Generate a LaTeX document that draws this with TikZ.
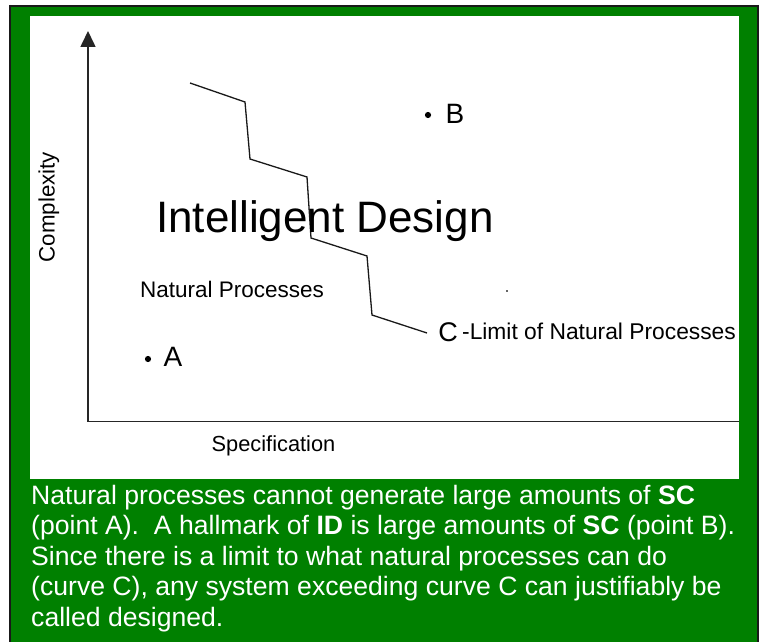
\documentclass[tikz,border=0pt]{standalone}
\usepackage{fontspec}
\setmainfont{Liberation Sans}
\usetikzlibrary{arrows.meta}
\definecolor{bggreen}{RGB}{0,128,0}
\tikzset{
  lbl/.style={inner sep=0pt, anchor=base, text=black},
  caption/.style={inner sep=0pt, anchor=base west, text=white, font=\fontsize{26.6}{30}\selectfont},
  axisline/.style={line width=1.6pt, draw=black!85},
  limitcurve/.style={line width=1.3pt, draw=black!90}
}
\begin{document}
\begin{tikzpicture}[x=1pt,y=-1pt]
\useasboundingbox (0,0) rectangle (761,642);
% frame
\fill[white] (0,0) rectangle (761,642);
\fill[bggreen] (9,5) rectangle (759,642);
\draw[line width=1.8pt, black!90] (9.9,5.9) -- (758.1,5.9);
\draw[line width=1.8pt, black!90] (9.9,5) -- (9.9,642);
\draw[line width=1.8pt, black!90] (758.1,5) -- (758.1,642);
\fill[white] (30,16) rectangle (739,479);
% axes
\coordinate (origin) at (88,421.5);
\coordinate (ytop) at (88,31);
\coordinate (xend) at (739,421.5);
\draw[axisline, -{Triangle[width=15pt,length=16pt]}] (origin) -- (ytop);
\draw[axisline] (origin) -- (xend);
% limit curve
\coordinate (c1) at (190,83);
\coordinate (c2) at (245,102);
\coordinate (c3) at (250,159);
\coordinate (c4) at (307,177);
\coordinate (c5) at (311,238);
\coordinate (c6) at (367,256);
\coordinate (c7) at (372,315);
\coordinate (c8) at (427,333);
\draw[limitcurve] (c1) -- (c2) -- (c3) -- (c4) -- (c5) -- (c6) -- (c7) -- (c8);
% labels
\node[lbl, font=\fontsize{44}{50}\selectfont] (id) at (325,232) {Intelligent Design};
\node[lbl, font=\fontsize{22.5}{26}\selectfont] (np) at (232,297) {Natural Processes};
\node[lbl, font=\fontsize{27}{30}\selectfont] (C) at (448,341) {C};
\node[lbl, font=\fontsize{22.8}{26}\selectfont] (lim) at (599,339) {-Limit of Natural Processes};
\node[lbl, font=\fontsize{28}{30}\selectfont] (A) at (173,366) {A};
\node[lbl, font=\fontsize{28}{30}\selectfont] (B) at (455,123) {B};
\fill (148,359) circle (3.1pt) node (dotA) {};
\fill (428,115) circle (3.1pt) node (dotB) {};
\fill[black!60] (506,290) rectangle (508,292);
\node[lbl, font=\fontsize{21.8}{24}\selectfont] (spec) at (273.5,451) {Specification};
\node[lbl, font=\fontsize{22.3}{24}\selectfont, rotate=90] (cplx) at (54.5,207) {Complexity};
% caption
\node[caption] (l1) at (31,504) {Natural processes cannot generate large amounts of \textbf{SC}};
\node[caption] (l2) at (31,534.5) {(point A).\ \ A hallmark of \textbf{ID} is large amounts of \textbf{SC} (point B).};
\node[caption] (l3) at (31,565) {Since there is a limit to what natural processes can do};
\node[caption] (l4) at (31,595.5) {(curve C), any system exceeding curve C can justifiably be};
\node[caption] (l5) at (31,626) {called designed.};
\end{tikzpicture}
\end{document}
